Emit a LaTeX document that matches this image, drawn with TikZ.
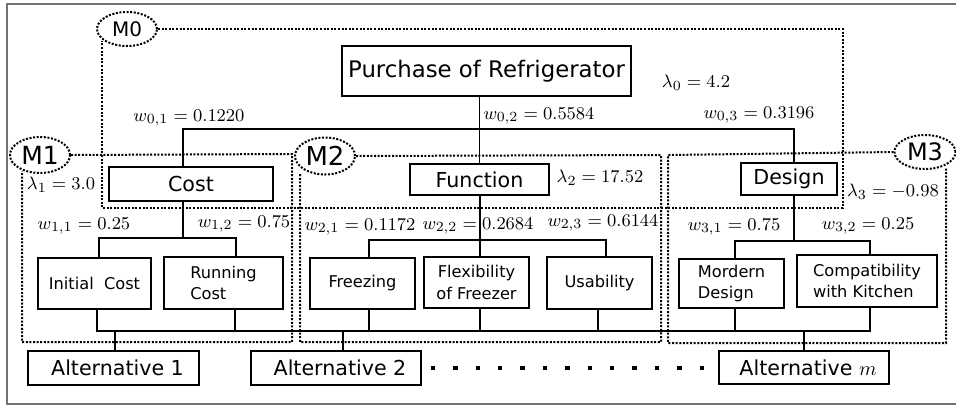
\documentclass[tikz,border=0pt]{standalone}
\usepackage[no-math]{fontspec}
\setmainfont{DejaVu Sans}
\usetikzlibrary{shapes.geometric}
\begin{document}
\begin{tikzpicture}[x=0.5pt,y=-0.5pt,
  box/.style={draw, line width=0.7pt, inner sep=0pt, align=center},
  big/.style={font=\fontsize{11.4}{13}\selectfont},
  mid/.style={font=\fontsize{10.3}{12}\selectfont},
  leaf/.style={font=\fontsize{8.1}{10.6}\selectfont},
  lab/.style={inner sep=0pt, font=\fontsize{9.3}{11}\selectfont},
  conn/.style={line width=0.7pt},
  mod/.style={line width=1pt, dash pattern=on 1pt off 0.8pt},
  modell/.style={ellipse, draw, mod, inner sep=0pt, minimum width=30pt, minimum height=17pt}
]
\useasboundingbox (0,0) rectangle (956,408);
% outer frame
\draw[line width=0.75pt, black!55] (956,4) -- (7,4) -- (7,404) -- (956,404);

% module frames
\node[modell, font=\fontsize{10}{12}\selectfont] (m0) at (127,29) {M0};
\node[modell, font=\fontsize{12.5}{14}\selectfont, minimum height=18pt] (m1) at (40,155) {M1};
\node[modell, font=\fontsize{13}{15}\selectfont, minimum height=18.5pt] (m2) at (325,156) {M2};
\node[modell, font=\fontsize{12}{14}\selectfont, minimum width=30.5pt] (m3) at (925,152) {M3};
\draw[mod] (m0.east) -- (843,29) -- (843,208) -- (102,208) -- (102,41);
\draw[mod] (m1.east) -- (292,154) -- (292,342) -- (22,342) -- (22,171);
\draw[mod] (m2.east) -- (661,155) -- (661,342) -- (300,342) -- (300,173);
\draw[mod] (m3.west) -- (668,155) -- (668,343) -- (946,343) -- (946,167);

% boxes
\node[box, big, minimum width=144.5pt, minimum height=25pt] (root) at (486.5,71) {Purchase of Refrigerator};
\node[box, mid, minimum width=82pt, minimum height=17pt] (cost) at (191,184) {Cost};
\node[box, mid, minimum width=69.5pt, minimum height=15.5pt] (func) at (479.5,179.5) {Function};
\node[box, mid, minimum width=48pt, minimum height=16pt] (design) at (789,179) {Design};
\node[box, leaf, minimum width=56.5pt, minimum height=25.5pt] (init) at (94.5,283.5) {Initial\ \ Cost};
\node[box, leaf, minimum width=59.5pt, minimum height=26pt, align=left] (run) at (223.5,283) {Running\\Cost};
\node[box, leaf, minimum width=52.5pt, minimum height=25.5pt] (freez) at (362.5,283.5) {Freezing};
\node[box, leaf, minimum width=52.5pt, minimum height=25.5pt] (flex) at (476.5,282.5) {Flexibility\\of Freezer};
\node[box, leaf, minimum width=52.5pt, minimum height=26pt] (usab) at (599.5,283) {Usability};
\node[box, leaf, minimum width=52.5pt, minimum height=24.5pt, align=left] (mord) at (731.5,283.5) {Mordern\\Design};
\node[box, leaf, minimum width=70pt, minimum height=26pt, align=left] (compat) at (867,281) {Compatibility\\with Kitchen};
\node[box, mid, minimum width=85.5pt, minimum height=17pt] (alt1) at (113.5,368) {\hspace{4pt}Alternative 1};
\node[box, mid, minimum width=85pt, minimum height=17pt] (alt2) at (336,368) {\hspace{4pt}Alternative 2};
\node[box, mid, minimum width=85pt, minimum height=16.5pt] (altm) at (804,367.5) {\hspace{4pt}Alternative $m$};

% labels
\node[lab] (l0) at (696,83) {$\lambda_0 = 4.2$};
\node[lab] (l1) at (61,185) {$\lambda_1 = 3.0$};
\node[lab] (l2) at (600,178) {$\lambda_2 = 17.52$};
\node[lab] (l3) at (893,192) {$\lambda_3 = -0.98$};
\node[lab] (w01) at (189,118) {$w_{0,1} = 0.1220$};
\node[lab] (w02) at (539,116) {$w_{0,2} = 0.5584$};
\node[lab] (w03) at (759,115) {$w_{0,3} = 0.3196$};
\node[lab] (w11) at (84,226) {$w_{1,1} = 0.25$};
\node[lab] (w12) at (244,224) {$w_{1,2} = 0.75$};
\node[lab] (w21) at (360,227) {$w_{2,1} = 0.1172$};
\node[lab] (w22) at (478,226) {$w_{2,2} = 0.2684$};
\node[lab] (w23) at (603,223) {$w_{2,3} = 0.6144$};
\node[lab] (w31) at (734,227) {$w_{3,1} = 0.75$};
\node[lab] (w32) at (868,226) {$w_{3,2} = 0.25$};

% level 0 connectors
\coordinate (j01) at (183,129);
\coordinate (j03) at (794,129);
\draw[conn] (func.north |- root.south) -- (func.north);
\draw[conn] (j01 |- cost.north) -- (j01) -- (j03) -- (j03 |- design.north);

% level 1 connectors
\coordinate (j1) at (183,238);
\coordinate (j11) at (99,238);
\coordinate (j12) at (236,238);
\draw[conn] (j1 |- cost.south) -- (j1);
\draw[conn] (j11 |- init.north) -- (j11) -- (j12) -- (j12 |- run.north);

\coordinate (j2) at (480,240);
\coordinate (j21) at (369,240);
\coordinate (j23) at (606,240);
\draw[conn] (j2 |- func.south) -- (j2 |- flex.north);
\draw[conn] (j21 |- freez.north) -- (j21) -- (j23) -- (j23 |- usab.north);

\coordinate (j3) at (794,241);
\coordinate (j31) at (735,241);
\coordinate (j32) at (870,241);
\draw[conn] (j3 |- design.south) -- (j3);
\draw[conn] (j31 |- mord.north) -- (j31) -- (j32) -- (j32 |- compat.north);

% bottom bus
\coordinate (bInit) at (97,331);
\coordinate (bRun) at (235,331);
\coordinate (bFreez) at (369,331);
\coordinate (bFlex) at (480,331);
\coordinate (bUsab) at (598,331);
\coordinate (bMord) at (735,331);
\coordinate (bComp) at (870,331);
\coordinate (bA1) at (115,331);
\coordinate (bA2) at (343,331);
\coordinate (bAm) at (804,331);
\draw[conn] (bInit |- init.south) -- (bInit) -- (bComp) -- (bComp |- compat.south);
\foreach \n/\c in {run/bRun, freez/bFreez, flex/bFlex, usab/bUsab, mord/bMord}
  \draw[conn] (\c |- \n.south) -- (\c);
\foreach \n/\c in {alt1/bA1, alt2/bA2, altm/bAm}
  \draw[conn] (\c) -- (\c |- \n.north);

% dots between alternatives
\foreach \i in {0,...,12}
  \fill ({433+22.4*\i-2.25},{368-2.25}) rectangle ++(4.5,4.5);
\end{tikzpicture}
\end{document}
